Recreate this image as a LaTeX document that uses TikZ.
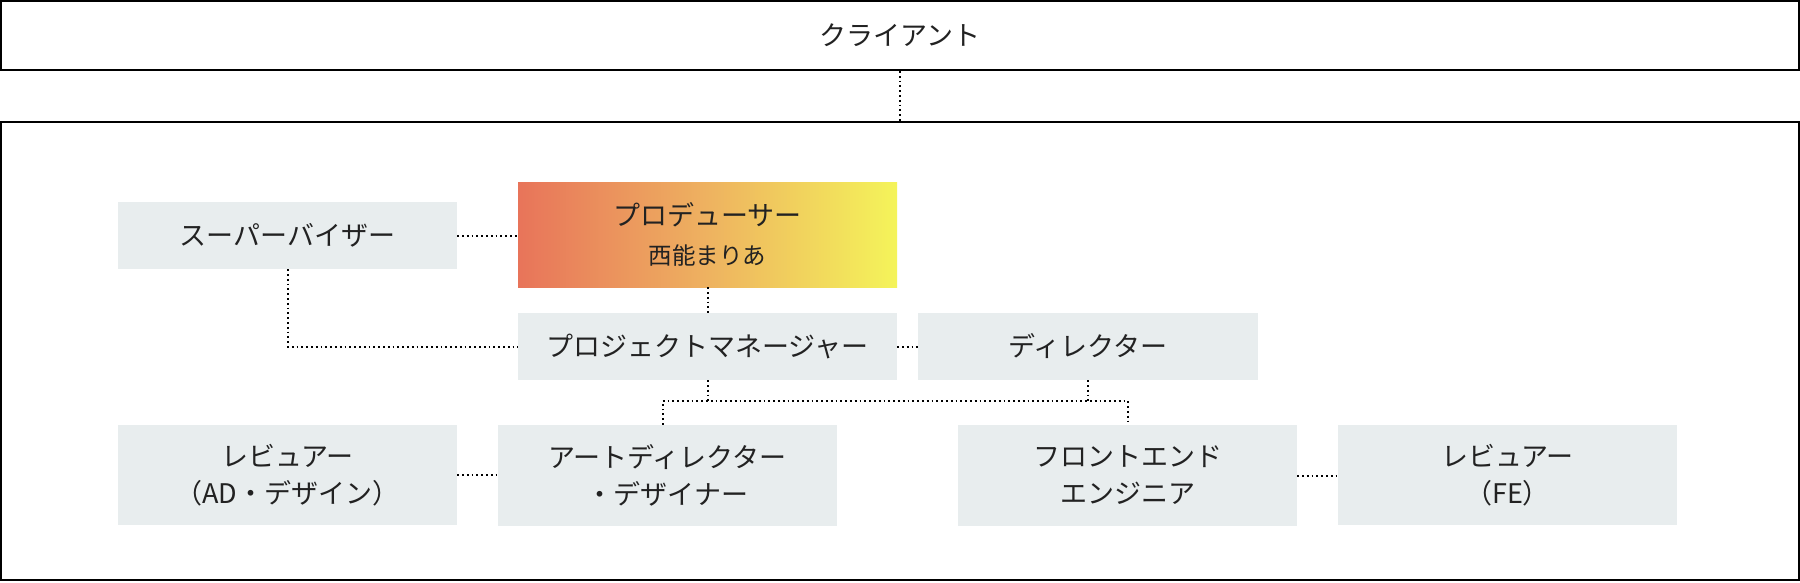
\documentclass[tikz,border=0pt]{standalone}
\usepackage{fontspec}
\setmainfont{Noto Sans CJK JP}
\usetikzlibrary{calc}
\definecolor{boxfill}{RGB}{232,237,238}
\definecolor{txt}{RGB}{34,34,34}
\definecolor{gradL}{RGB}{232,116,90}
\definecolor{gradM}{RGB}{238,178,96}
\definecolor{gradR}{RGB}{244,244,90}
\tikzset{
  frame/.style={draw=black, line width=2pt, inner sep=0pt},
  role/.style={fill=boxfill, inner sep=0pt, text=txt, align=center,
    font=\fontsize{27}{37}\selectfont},
  link/.style={draw=black, line width=2pt, dash pattern=on 1.8pt off 3pt},
}
\begin{document}
\begin{tikzpicture}[x=1pt,y=-1pt]
\useasboundingbox (0,0) rectangle (1800,582);
\fill[white] (0,0) rectangle (1800,582);
% frames
\node[frame, minimum width=1798pt, minimum height=69pt, text=txt,
  font=\fontsize{27}{37}\selectfont] (client) at (900,35.5) {クライアント};
\node[frame, minimum width=1798pt, minimum height=458pt] (team) at (900,351) {};
% roles
\node[role, minimum width=339pt, minimum height=67pt] (sup) at (287.5,235.5) {スーパーバイザー};
\node[inner sep=0pt, minimum width=379pt, minimum height=105pt,
  left color=gradL, right color=gradR, middle color=gradM, text=txt, align=center]
  (prod) at (707.5,234.5)
  {{\fontsize{27}{27}\selectfont プロデューサー}\\[17pt]{\fontsize{23.5}{23.5}\selectfont 西能まりあ}};
\node[role, minimum width=379pt, minimum height=67pt] (pm) at (707.5,346.5) {プロジェクトマネージャー};
\node[role, minimum width=340pt, minimum height=67pt] (dir) at (1088,346.5) {ディレクター};
\node[role, minimum width=339pt, minimum height=100pt] (revad) at (287.5,475) {レビュアー\\（AD・デザイン）};
\node[role, minimum width=339pt, minimum height=101pt] (ad) at (667.5,475.5) {アートディレクター\\・デザイナー};
\node[role, minimum width=339pt, minimum height=101pt] (fe) at (1127.5,475.5) {フロントエンド\\エンジニア};
\node[role, minimum width=339pt, minimum height=100pt] (revfe) at (1507.5,475) {レビュアー\\（FE）};
% bus coordinates
\coordinate (busL) at (662.5,401);
\coordinate (busR) at (1128,401);
% connectors
\draw[link] (client.south) -- (team.north);
\draw[link] (sup.east) -- (sup.east -| prod.west);
\draw[link] (prod.south) -- (pm.north);
\draw[link] (sup.south) |- (pm.west);
\draw[link] (pm.east) -- (dir.west);
\draw[link] (pm.south) -- (pm.south |- busL);
\draw[link] (dir.south) -- (dir.south |- busL);
\draw[link] (busL |- ad.north) -- (busL) -- (busR) -- (busR |- fe.north);
\draw[link] (revad.east) -- (revad.east -| ad.west);
\draw[link] (fe.east) -- (fe.east -| revfe.west);
\end{tikzpicture}
\end{document}
